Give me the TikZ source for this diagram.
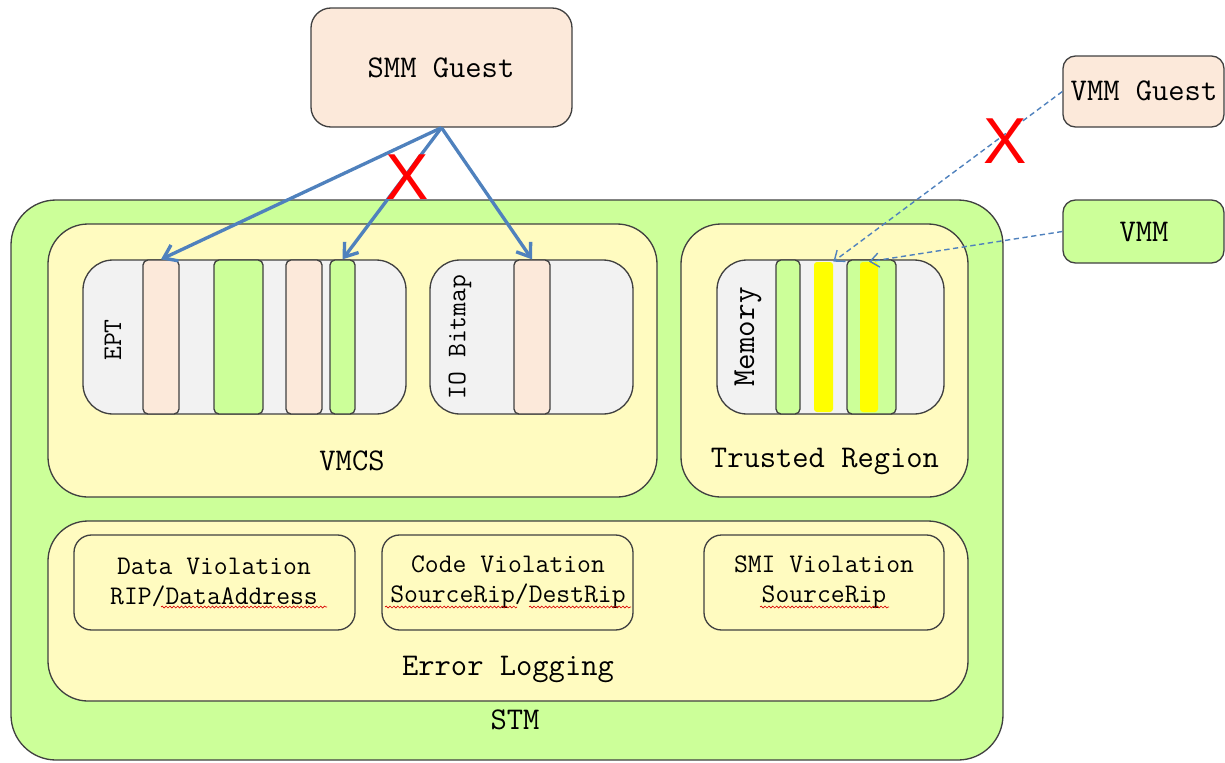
\documentclass[tikz,border=0pt]{standalone}
\usepackage{fontspec}
\newfontfamily\crossfont{Liberation Sans}
\usetikzlibrary{arrows.meta,fit,decorations.pathmorphing}
\definecolor{peach}{HTML}{FCE9DA}
\definecolor{lime}{HTML}{CCFF99}
\definecolor{cream}{HTML}{FFFBC0}
\definecolor{panel}{HTML}{F2F2F2}
\definecolor{edge}{HTML}{404040}
\definecolor{link}{HTML}{4F81BD}
\definecolor{hilite}{HTML}{FFFF00}
% typewriter sizes
\newcommand\bigtxt{\ttfamily\fontsize{18pt}{20pt}\selectfont}
\newcommand\smalltxt{\ttfamily\fontsize{15.3pt}{17pt}\selectfont}
\newcommand\sidetxt{\ttfamily\fontsize{15.3pt}{17pt}\selectfont}
\newcommand\memtxt{\ttfamily\fontsize{18.3pt}{20pt}\selectfont}
\begin{document}
\begin{tikzpicture}[x=0.02cm,y=-0.02cm,
  box/.style={draw=edge, line width=0.75pt, inner sep=0pt},
  outerbox/.style={box, fill=lime, rounded corners=0.9cm},
  groupbox/.style={box, fill=cream, rounded corners=0.8cm},
  tablebox/.style={box, fill=panel, rounded corners=0.6cm},
  logbox/.style={box, fill=cream, rounded corners=0.35cm},
  stripbox/.style={box, rounded corners=0.1cm},
  markbox/.style={fill=hilite, inner sep=0pt, rounded corners=0.06cm},
  caption/.style={font=\bigtxt, text=black},
  loglabel/.style={font=\smalltxt, align=center},
  sidelabel/.style={font=\sidetxt, rotate=90},
  access/.style={draw=link, line width=1.9pt, -{Straight Barb[length=7pt,width=10pt,line width=1.9pt]}},
  weak/.style={draw=link, line width=0.8pt, dash pattern=on 3pt off 2pt, -{Straight Barb[length=5pt,width=8pt]}},
  deny/.style={text=red, font=\crossfont\fontsize{37pt}{37pt}\selectfont, inner sep=0pt},
  spell/.style={draw=red!85!black, line width=0.35pt, decorate, decoration={snake, amplitude=0.55pt, segment length=2.2pt}}
]
\useasboundingbox (0,0) rectangle (1225,762);

% guests and monitor
\node[box, fill=peach, rounded corners=0.4cm, fit={(311,8) (572,127)}] (smm) {};
\node[caption] at (441,68) {SMM Guest};
\node[box, fill=peach, rounded corners=0.25cm, fit={(1063,56) (1224,127)}] (vmmg) {};
\node[caption] at (1144,91) {VMM Guest};
\node[box, fill=lime, rounded corners=0.25cm, fit={(1063,200) (1224,263)}] (vmm) {};
\node[caption] at (1144,232) {VMM};

% STM container
\node[outerbox, fit={(11,200) (1003,760)}] (stm) {};
\node[caption] at (515,720) {STM};

% VMCS
\node[groupbox, fit={(48,224) (657,497)}] (vmcs) {};
\node[caption] at (352,461) {VMCS};
\node[tablebox, fit={(83,260) (406,414)}] (ept) {};
\node[sidelabel] at (113,340) {EPT};
\node[stripbox, fill=peach, fit={(143,260) (179,414)}] (p1) {};
\node[stripbox, fill=lime, fit={(214,260) (263,414)}] (g1) {};
\node[stripbox, fill=peach, fit={(286,260) (322,414)}] (p2) {};
\node[stripbox, fill=lime, fit={(330,260) (355,414)}] (g2) {};
\node[tablebox, fit={(430,260) (633,414)}] (io) {};
\node[sidelabel] at (460,337) {IO Bitmap};
\node[stripbox, fill=peach, fit={(514,260) (550,414)}] (iop) {};

% Trusted region
\node[groupbox, fit={(681,224) (968,497)}] (trusted) {};
\node[caption] at (825,461) {Trusted Region};
\node[tablebox, fit={(717,260) (944,414)}] (mem) {};
\node[font=\memtxt, rotate=90] at (748,337) {Memory};
\node[stripbox, fill=lime, fit={(776,260) (800,414)}] (mg1) {};
\node[markbox, fit={(814,262) (833,412)}] (y1) {};
\node[stripbox, fill=lime, fit={(847,260) (896,414)}] (mg2) {};
\node[markbox, fit={(860,262) (878,412)}] (y2) {};

% Error logging
\node[groupbox, fit={(48,521) (968,701)}] (log) {};
\node[caption] at (508,669) {Error Logging};
\node[logbox, fit={(74,535) (355,630)}] (dv) {};
\node[loglabel] at (214,582) {Data Violation\\RIP/DataAddress};
\node[logbox, fit={(382,535) (633,630)}] (cv) {};
\node[loglabel] at (508,582) {Code Violation\\SourceRip/DestRip};
\node[logbox, fit={(704,535) (944,630)}] (sv) {};
\node[loglabel] at (824,582) {SMI Violation\\SourceRip};

% spelling marks under words
\draw[spell] (161,607) -- (327,607);
\draw[spell] (385,607) -- (517,607);
\draw[spell] (529,607) -- (631,607);
\draw[spell] (760,607) -- (889,607);

% accesses
\draw[access] (smm.south) -- (p1.north);
\draw[access] (smm.south) -- (g2.north);
\draw[access] (smm.south) -- (iop.north);
\draw[weak] (vmmg.west) -- (y1.north east);
\draw[weak] (vmm.west) -- (y2.north);

% denied paths
\node[deny] (x1) at (407,177) {X};
\node[deny] (x2) at (1005,141) {X};
\end{tikzpicture}
\end{document}
